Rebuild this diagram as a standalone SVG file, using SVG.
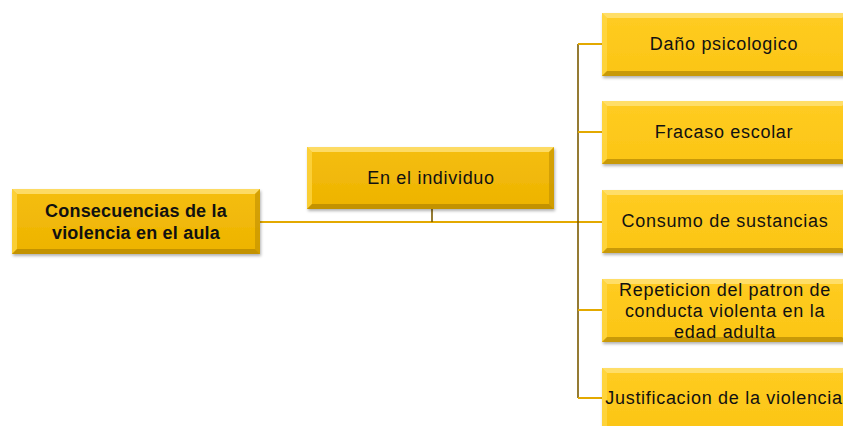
<svg xmlns="http://www.w3.org/2000/svg" width="843" height="426" viewBox="0 0 843 426">
<defs>
<filter id="sh" x="-10%" y="-10%" width="120%" height="130%">
<feDropShadow dx="1" dy="2" stdDeviation="1.5" flood-color="#000" flood-opacity="0.3"/>
</filter>
<linearGradient id="gA" x1="0" y1="0" x2="0" y2="1">
<stop offset="0" stop-color="#F5BE10"/><stop offset="1" stop-color="#EDB300"/>
</linearGradient>
<linearGradient id="gB" x1="0" y1="0" x2="0" y2="1">
<stop offset="0" stop-color="#FFCC22"/><stop offset="1" stop-color="#FBC515"/>
</linearGradient>
</defs>
<style>
.dk{fill:url(#gA);}
.lt{fill:url(#gB);}
.bt{fill:#FFE27A;opacity:0.8;}
.bl{fill:#FFD84A;opacity:0.7;}
.br{fill:#B98A00;opacity:0.55;}
.bb{fill:#A67C00;opacity:0.6;}
text{font-family:"Liberation Sans",Arial,sans-serif;font-size:18px;letter-spacing:0.7px;fill:#111;text-anchor:middle;}
.b{font-weight:bold;letter-spacing:0.2px;}
.ln{stroke:#E3A900;stroke-width:2;fill:none;}
.tr{stroke:#7A5A00;stroke-width:1.6;fill:none;}
</style>
<g id="connectors">
<line class="ln" x1="260" y1="222" x2="604" y2="222"/>
<line class="tr" x1="432" y1="209" x2="432" y2="222"/>
<line class="tr" x1="578" y1="44" x2="578" y2="398"/>
<line class="ln" x1="578" y1="44" x2="604" y2="44"/>
<line class="ln" x1="578" y1="132" x2="604" y2="132"/>
<line class="ln" x1="578" y1="310" x2="604" y2="310"/>
<line class="ln" x1="578" y1="398" x2="604" y2="398"/>
</g>
<g id="root">
<g filter="url(#sh)">
<rect class="dk" x="12" y="189" width="248" height="65"/>
</g>
<polygon class="bt" points="12,189 260,189 255,194 17,194"/>
<polygon class="bl" points="12,189 17,194 17,249 12,254"/>
<polygon class="br" points="260,189 260,254 255,249 255,194"/>
<polygon class="bb" points="12,254 260,254 255,249 17,249"/>
<text class="b" x="136" y="217">Consecuencias de la</text>
<text class="b" x="136" y="239">violencia en el aula</text>
</g>
<g id="individuo">
<g filter="url(#sh)">
<rect class="dk" x="307" y="147" width="247" height="62"/>
</g>
<polygon class="bt" points="307,147 554,147 549,152 312,152"/>
<polygon class="bl" points="307,147 312,152 312,204 307,209"/>
<polygon class="br" points="554,147 554,209 549,204 549,152"/>
<polygon class="bb" points="307,209 554,209 549,204 312,204"/>
<text x="431" y="184">En el individuo</text>
</g>
<g id="dano">
<g filter="url(#sh)"><rect class="lt" x="602" y="13" width="245" height="63"/></g>
<polygon class="bt" points="602,13 847,13 842,18 607,18"/>
<polygon class="bl" points="602,13 607,18 607,71 602,76"/>
<polygon class="bb" points="602,76 847,76 842,71 607,71"/>
<text x="724" y="50">Daño psicologico</text>
</g>
<g id="fracaso">
<g filter="url(#sh)"><rect class="lt" x="602" y="101" width="245" height="63"/></g>
<polygon class="bt" points="602,101 847,101 842,106 607,106"/>
<polygon class="bl" points="602,101 607,106 607,159 602,164"/>
<polygon class="bb" points="602,164 847,164 842,159 607,159"/>
<text x="724" y="138">Fracaso escolar</text>
</g>
<g id="consumo">
<g filter="url(#sh)"><rect class="lt" x="602" y="190" width="245" height="63"/></g>
<polygon class="bt" points="602,190 847,190 842,195 607,195"/>
<polygon class="bl" points="602,190 607,195 607,248 602,253"/>
<polygon class="bb" points="602,253 847,253 842,248 607,248"/>
<text x="725" y="227">Consumo de sustancias</text>
</g>
<g id="repeticion">
<g filter="url(#sh)"><rect class="lt" x="602" y="279" width="245" height="63"/></g>
<polygon class="bt" points="602,279 847,279 842,284 607,284"/>
<polygon class="bl" points="602,279 607,284 607,337 602,342"/>
<polygon class="bb" points="602,342 847,342 842,337 607,337"/>
<text x="725" y="296">Repeticion del patron de</text>
<text x="725" y="317">conducta violenta  en la</text>
<text x="725" y="338">edad adulta</text>
</g>
<g id="justificacion">
<g filter="url(#sh)"><rect class="lt" x="602" y="368" width="245" height="63"/></g>
<polygon class="bt" points="602,368 847,368 842,373 607,373"/>
<polygon class="bl" points="602,368 607,373 607,426 602,431"/>
<text x="724" y="404">Justificacion de la violencia</text>
</g>
</svg>
